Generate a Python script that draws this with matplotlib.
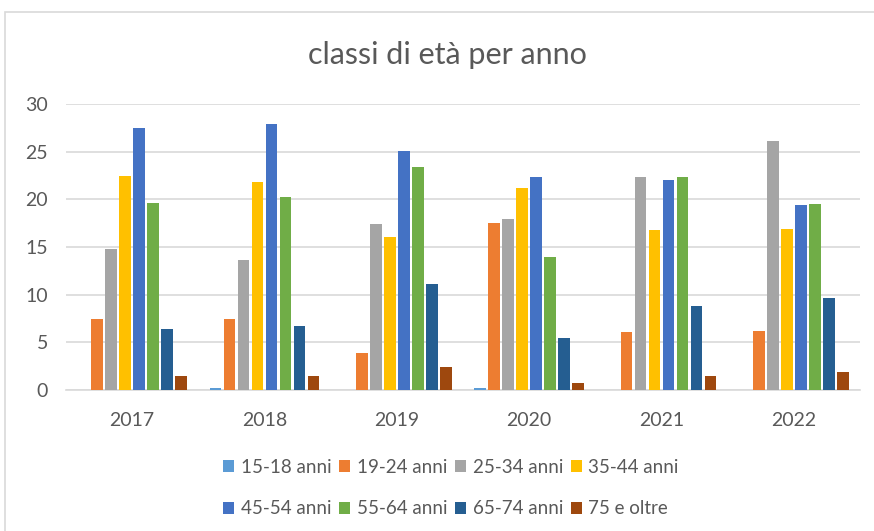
import matplotlib.pyplot as plt
import numpy as np
from matplotlib.patches import Rectangle

plt.rcParams['font.family'] = ['Lato', 'DejaVu Sans']

anni = ['2017', '2018', '2019', '2020', '2021', '2022']
classi = ['15-18 anni', '19-24 anni', '25-34 anni', '35-44 anni',
          '45-54 anni', '55-64 anni', '65-74 anni', '75 e oltre']
colori = ['#5B9BD5', '#ED7D31', '#A5A5A5', '#FFC000',
          '#4472C4', '#70AD47', '#255E91', '#9E480E']

# valori, una lista per classe (2017..2022)
v15_18 = [0.0, 0.2, 0.0, 0.2, 0.0, 0.0]
v19_24 = [7.4, 7.5, 3.9, 17.5, 6.1, 6.2]
v25_34 = [14.8, 13.6, 17.4, 17.9, 22.3, 26.1]
v35_44 = [22.4, 21.8, 16.0, 21.2, 16.8, 16.9]
v45_54 = [27.5, 27.9, 25.1, 22.3, 22.0, 19.4]
v55_64 = [19.6, 20.2, 23.4, 14.0, 22.3, 19.5]
v65_74 = [6.4, 6.7, 11.1, 5.5, 8.8, 9.7]
v75 = [1.5, 1.5, 2.4, 0.7, 1.5, 1.9]
serie = [v15_18, v19_24, v25_34, v35_44, v45_54, v55_64, v65_74, v75]

fig = plt.figure(figsize=(8.74, 5.31), dpi=100)
fig.patches.append(Rectangle((5 / 874, -0.1), 1.1, 1 - 12 / 531 + 0.1,
                             transform=fig.transFigure, fill=False,
                             edgecolor='#d9d9d9', linewidth=1.2))
ax = fig.add_axes([66 / 874, 141 / 531, 794 / 874, 286 / 531])

x = np.arange(len(anni))
step = 0.1060
w = 0.088
handles = []
for i, (vals, col) in enumerate(zip(serie, colori)):
    off = (i - 3.5) * step
    b = ax.bar(x + off, vals, width=w, color=col, label=classi[i], zorder=3)
    handles.append(b)

ax.set_xlim(-0.5, len(anni) - 0.5)
ax.set_ylim(0, 30)
ax.set_yticks(range(0, 31, 5))
ax.set_xticks(x)
ax.set_xticklabels(anni)
ax.grid(axis='y', color='#d9d9d9', linewidth=1.2, zorder=0)
for s in ['top', 'right', 'left']:
    ax.spines[s].set_visible(False)
ax.spines['bottom'].set_color('#d9d9d9')
ax.spines['bottom'].set_linewidth(1.2)
ax.tick_params(axis='both', length=0, colors='#595959', labelsize=14)
ax.tick_params(axis='x', pad=16)
ax.tick_params(axis='y', pad=13)

fig.text(447 / 874, 1 - 55 / 531, 'classi di età per anno', ha='center',
         va='center', fontsize=22, color='#595959')

# legenda su due righe (ordine per colonne)
ordine = [0, 4, 1, 5, 2, 6, 3, 7]
leg = fig.legend([handles[k] for k in ordine], [classi[k] for k in ordine],
                 loc='center', bbox_to_anchor=(451 / 874, 1 - 488 / 531),
                 ncol=4, frameon=False, fontsize=13.5, handlelength=0.6,
                 handleheight=0.6, handletextpad=0.35, columnspacing=0.4,
                 labelspacing=1.3)
for t in leg.get_texts():
    t.set_color('#595959')

fig.savefig('out.png', dpi=100)
